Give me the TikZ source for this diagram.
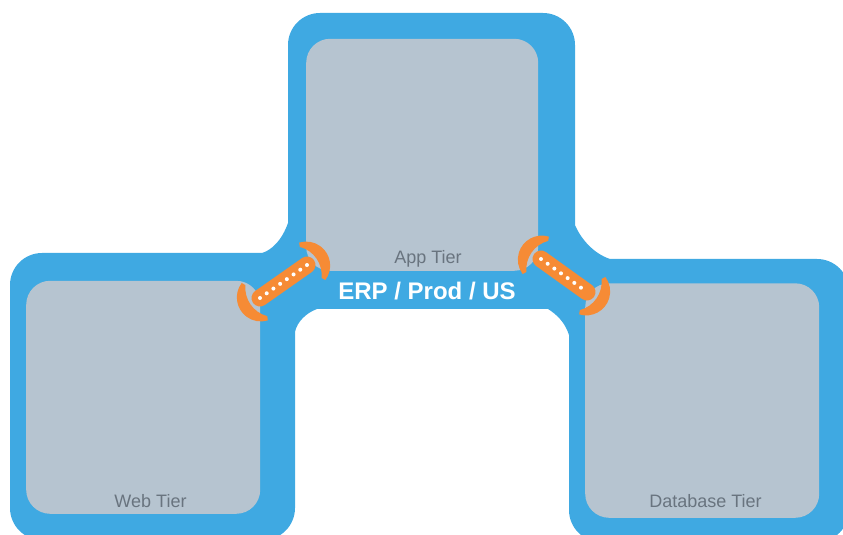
\documentclass[tikz,border=0pt]{standalone}
\usepackage{fontspec}
\setmainfont{Liberation Sans}
\usetikzlibrary{positioning}
\definecolor{tierblue}{HTML}{3FA9E2}
\definecolor{tiergray}{HTML}{B6C4D0}
\definecolor{tiertext}{HTML}{69747F}
\definecolor{linkorange}{HTML}{F68B35}
\tikzset{
  tierbox/.style={fill=tiergray,rounded corners=24pt,inner sep=0pt},
  tierlabel/.style={text=tiertext,font=\fontsize{18}{20}\selectfont,inner sep=0pt},
  linkpill/.style={linkorange,line width=17pt,line cap=round},
  linkdots/.style={white,line width=4pt,line cap=round,dash pattern=on 0pt off 8.2pt},
  linkarc/.style={fill=linkorange}
}
\begin{document}
\begin{tikzpicture}[x=1pt,y=1pt]
      \useasboundingbox (0,0) rectangle (843,535);
      \clip (0,0) rectangle (843,535);
      \fill[tierblue] (10,27) -- (10,250) arc[start angle=180,end angle=90,radius=32pt] -- (262,282) .. controls (272,285) and (282,295) .. (288,312) -- (288,490) arc[start angle=180,end angle=90,radius=32pt] -- (543,522) arc[start angle=90,end angle=0,radius=32pt] -- (575,310) .. controls (580,298) and (592,282) .. (610,276) -- (817,276) arc[start angle=90,end angle=0,radius=32pt] -- (849,25) arc[start angle=0,end angle=-90,radius=32pt] -- (601,-7) arc[start angle=-90,end angle=-180,radius=32pt] -- (569,200) .. controls (565,213) and (556,221) .. (548,226) -- (317,226) .. controls (306,222) and (297,213) .. (295,203) -- (295,27) arc[start angle=0,end angle=-90,radius=32pt] -- (42,-5) arc[start angle=-90,end angle=-180,radius=32pt] -- cycle;
      \node[tierbox,minimum width=234pt,minimum height=233pt,anchor=south west] (webtier) at (26,21) {};
      \node[tierbox,minimum width=232pt,minimum height=232pt,anchor=south west] (apptier) at (306,264) {};
      \node[tierbox,minimum width=234pt,minimum height=234.5pt,anchor=south west] (dbtier) at (585,17) {};
      \node[tierlabel] (weblabel) at (150.5,34) {Web Tier};
      \node[tierlabel] (applabel) at (428,276) {App Tier};
      \node[tierlabel] (dblabel) at (705.5,33.5) {Database Tier};
      \node[text=white,font=\bfseries\fontsize{24}{28}\selectfont,inner sep=0pt] (envlabel) at (427,244) {ERP / Prod / US};
      % links between the tiers
      \coordinate (webport) at (260,237);
      \coordinate (appwest) at (307,270);
      \coordinate (appeast) at (541,276);
      \coordinate (dbport) at (587,243);
      \draw[linkpill] (webport) -- (appwest);
      \draw[linkpill] (appeast) -- (dbport);
      \draw[linkdots] (webport) -- (appwest);
      \draw[linkdots] (appeast) -- (dbport);
      \foreach \port/\mid in {webport/215,appwest/35,appeast/145,dbport/-35}
        \fill[linkarc,shift={(\port)},rotate=\mid] (6.4,-22.8) arc[start angle=-72,end angle=72,radius=24pt] -- (4.5,19) arc[start angle=40.4,end angle=-40.4,radius=29.3pt] -- cycle;
    \end{tikzpicture}
\end{document}
